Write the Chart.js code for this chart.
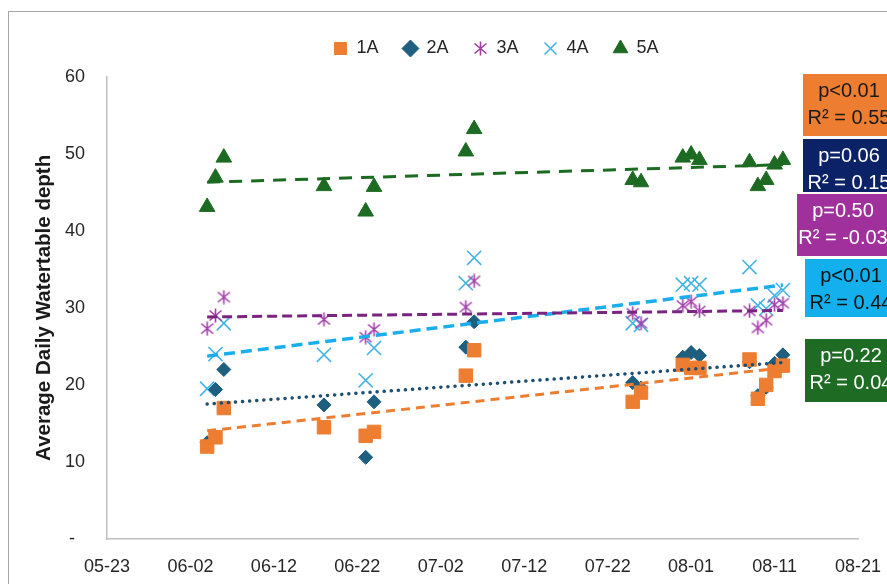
<!DOCTYPE html>
<html>
<head>
<meta charset="utf-8">
<script src="https://cdn.jsdelivr.net/npm/chart.js@4.4.1/dist/chart.umd.min.js"></script>
<style>
  html, body { margin: 0; padding: 0; background: #fff; }
</style>
</head>
<body>
<canvas id="chart" width="887" height="584"></canvas>
<script>
// sample dates (MM-DD), same for every site
const sampleDates = ['06-04','06-05','06-06','06-18','06-23','06-24','07-05','07-06','07-25','07-26',
                     '07-31','08-01','08-02','08-08','08-09','08-10','08-11','08-12'];

const site1A = [12.0, 13.2, 17.0, 14.5, 13.4, 13.9, 21.2, 24.5, 17.8, 19.0, 22.6, 22.2, 22.2, 23.3, 18.2, 20.0, 21.8, 22.5];
const site2A = [12.5, 19.4, 22.0, 17.4, 10.6, 17.8, 24.9, 28.2, 20.3, 19.6, 23.6, 24.2, 23.8, 23.0, 18.6, 19.7, 22.8, 23.9];
const site3A = [27.3, 29.0, 31.4, 28.5, 26.2, 27.2, 30.1, 33.5, 29.3, 28.0, 30.3, 30.8, 29.6, 29.6, 27.4, 28.4, 30.4, 30.6];
const site4A = [19.5, 24.0, 28.0, 23.9, 20.6, 24.8, 33.2, 36.5, 28.0, 27.8, 33.0, 33.2, 33.0, 35.3, 30.3, 29.9, 31.6, 32.3];
const site5A = [43.1, 46.9, 49.5, 45.8, 42.5, 45.7, 50.3, 53.2, 46.6, 46.3, 49.5, 49.9, 49.2, 48.9, 45.8, 46.6, 48.6, 49.2];

const siteNames = ['1A', '2A', '3A', '4A', '5A'];
const xTickLabels = ['05-23','06-02','06-12','06-22','07-02','07-12','07-22','08-01','08-11','08-21'];
const yTickLabels = ['-', '10', '20', '30', '40', '50', '60'];
const pLabels = ['p<0.01', 'p=0.06', 'p=0.50', 'p<0.01', 'p=0.22'];
const r2Labels = ['R\u00B2 = 0.55', 'R\u00B2 = 0.15', 'R\u00B2 = -0.03', 'R\u00B2 = 0.44', 'R\u00B2 = 0.04'];

const FONT = "'Liberation Sans', Arial, sans-serif";

// days since 05-23
function dayNum(s) {
  const [m, d] = s.split('-').map(Number);
  return (Date.UTC(2024, m - 1, d) - Date.UTC(2024, 4, 23)) / 864e5;
}
const xs = sampleDates.map(dayNum);

function pts(vals) {
  return vals.map((v, i) => ({ x: xs[i], y: v }));
}

// least squares line, drawn from first to last sample like excel does
function trend(vals) {
  const n = vals.length;
  const mx = xs.reduce((a, b) => a + b, 0) / n;
  const my = vals.reduce((a, b) => a + b, 0) / n;
  let sxy = 0, sxx = 0;
  for (let i = 0; i < n; i++) {
    sxy += (xs[i] - mx) * (vals[i] - my);
    sxx += (xs[i] - mx) * (xs[i] - mx);
  }
  const b = sxy / sxx, a = my - b * mx;
  const x0 = Math.min(...xs), x1 = Math.max(...xs);
  return [{ x: x0, y: a + b * x0 }, { x: x1, y: a + b * x1 }];
}

function asterisk(color) {
  const c = document.createElement('canvas');
  c.width = 15; c.height = 15;
  const g = c.getContext('2d');
  g.strokeStyle = color;
  g.lineWidth = 1.6;
  g.beginPath();
  g.moveTo(7.5, 0.5); g.lineTo(7.5, 14.5);
  g.moveTo(1.5, 2.5); g.lineTo(13.5, 12.5);
  g.moveTo(1.5, 12.5); g.lineTo(13.5, 2.5);
  g.stroke();
  return c;
}

const markerSets = [
  { label: siteNames[0], data: pts(site1A), pointStyle: 'rect', pointRadius: 9.5, backgroundColor: '#ED7D31', borderColor: '#ED7D31', borderWidth: 1 },
  { label: siteNames[1], data: pts(site2A), pointStyle: 'rectRot', pointRadius: 7, backgroundColor: '#1E5F80', borderColor: '#1E5F80', borderWidth: 1 },
  { label: siteNames[2], data: pts(site3A), pointStyle: asterisk('#A23EAA'), backgroundColor: '#A23EAA', borderColor: '#A23EAA', borderWidth: 1.6 },
  { label: siteNames[3], data: pts(site4A), pointStyle: 'crossRot', pointRadius: 10, backgroundColor: '#45B4E4', borderColor: '#45B4E4', borderWidth: 1.6 },
  { label: siteNames[4], data: pts(site5A), pointStyle: 'triangle', pointRadius: 9, backgroundColor: '#1D6B22', borderColor: '#1D6B22', borderWidth: 1 }
];
// trailing spaces give the wide gaps of the excel legend
markerSets.forEach(d => { d.order = 2; d.label += '   '; });

const trendSets = [
  { data: trend(site1A), borderColor: '#ED7D31', borderDash: [9, 6], borderWidth: 3 },
  { data: trend(site2A), borderColor: '#1F4F70', borderDash: [0.1, 7], borderWidth: 3.5, borderCapStyle: 'round' },
  { data: trend(site3A), borderColor: '#7A2482', borderDash: [10, 5], borderWidth: 3 },
  { data: trend(site4A), borderColor: '#1AAEEF', borderDash: [11, 6], borderWidth: 3.5 },
  { data: trend(site5A), borderColor: '#1D6B22', borderDash: [13, 9], borderWidth: 3 }
];
trendSets.forEach(d => { d.showLine = true; d.pointRadius = 0; d.order = 1; d.label = 'trend'; });

// p / R2 boxes on the right, cut off by the picture edge
const boxColors = ['#ED7D31', '#0B2266', '#A0309C', '#14B0EE', '#1E6B24'];
const boxText = ['#1A1A1A', '#FFFFFF', '#FFFFFF', '#111111', '#FFFFFF'];
const boxLeft = [803, 803, 797, 805, 805];
const boxTop = [74, 139, 194, 259, 339];
const boxH = [62, 53, 62, 58, 63];

const statsBoxes = {
  id: 'statsBoxes',
  afterDraw(chart) {
    const ctx = chart.ctx;
    ctx.save();
    ctx.font = '20px ' + FONT;
    ctx.textAlign = 'center';
    ctx.textBaseline = 'middle';
    for (let i = 0; i < pLabels.length; i++) {
      ctx.fillStyle = boxColors[i];
      ctx.fillRect(boxLeft[i], boxTop[i], 130, boxH[i]);
      ctx.fillStyle = boxText[i];
      const cx = boxLeft[i] + 46;
      ctx.fillText(pLabels[i], cx, boxTop[i] + 17);
      ctx.fillText(r2Labels[i], cx, boxTop[i] + 44);
    }
    ctx.restore();
  }
};

const frame = {
  id: 'frame',
  beforeDraw(chart) {
    const ctx = chart.ctx;
    ctx.save();
    ctx.fillStyle = '#fff';
    ctx.fillRect(0, 0, chart.width, chart.height);
    ctx.strokeStyle = '#A6A6A6';
    ctx.lineWidth = 1;
    ctx.strokeRect(8.5, 11.5, 1000, 1000);
    ctx.restore();
  }
};

const legendShift = {
  id: 'legendShift',
  afterLayout(chart) {
    chart.legend.left += 21;
    chart.legend.right += 21;
  }
};

new Chart(document.getElementById('chart'), {
  type: 'scatter',
  data: { datasets: markerSets.concat(trendSets) },
  options: {
    responsive: false,
    animation: false,
    layout: { padding: { top: 29.5, left: 25, right: 29, bottom: 0 } },
    plugins: {
      tooltip: { enabled: false },
      legend: {
        fullSize: false,
        labels: {
          usePointStyle: true,
          boxWidth: 14,
          boxHeight: 12,
          padding: 10,
          color: '#262626',
          font: { family: FONT, size: 18 },
          filter: item => item.text !== 'trend'
        }
      },
      subtitle: { display: true, text: '', weight: 500, padding: 0, font: { size: 8, lineHeight: 1.15 } }
    },
    scales: {
      x: {
        type: 'linear',
        min: 0,
        max: 90,
        grid: { display: false, drawTicks: false },
        border: { color: '#BFBFBF', width: 1.5 },
        ticks: {
          stepSize: 10,
          autoSkip: false,
          maxRotation: 0,
          padding: 17,
          color: '#262626',
          font: { family: FONT, size: 18 },
          callback: (v, i) => xTickLabels[i]
        },
        afterFit: s => { s.height = 45; s.paddingLeft = 0; s.paddingRight = 0; }
      },
      y: {
        min: 0,
        max: 60,
        grid: { display: false, drawTicks: false },
        border: { color: '#BFBFBF', width: 1.5 },
        ticks: {
          stepSize: 10,
          padding: 22,
          color: '#262626',
          font: { family: FONT, size: 18 },
          callback: (v, i) => i === 0 ? yTickLabels[i] + '  ' : yTickLabels[i]
        },
        title: {
          display: true,
          text: 'Average Daily Watertable depth',
          color: '#1A1A1A',
          font: { family: FONT, size: 20.5, weight: 'bold' },
          padding: { top: 7, bottom: 0 }
        },
        afterFit: s => { s.width = 82; }
      }
    }
  },
  plugins: [frame, statsBoxes, legendShift]
});
</script>
</body>
</html>
